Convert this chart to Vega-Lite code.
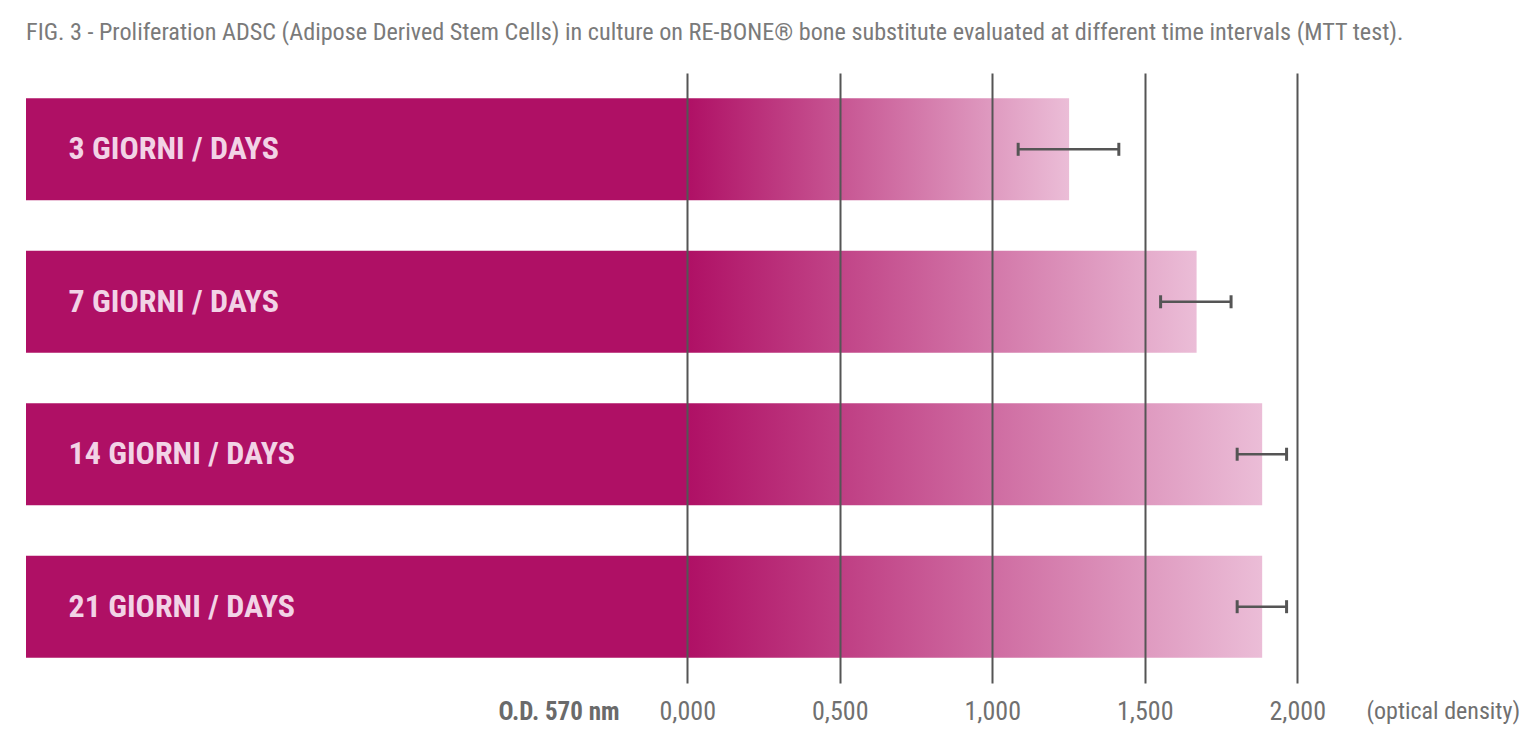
{
  "$schema": "https://vega.github.io/schema/vega-lite/v6.json",
  "width": 1317,
  "height": 610,
  "autosize": {"type": "none"},
  "padding": {"left": 26, "top": 73, "right": 193, "bottom": 53},
  "background": "white",
  "config": {"view": {"stroke": null}},
  "title": {
    "text": "FIG. 3 - Proliferation ADSC (Adipose Derived Stem Cells) in culture on RE-BONE® bone substitute evaluated at different time intervals (MTT test).",
    "anchor": "start",
    "frame": "group",
    "limit": 1500,
    "font": "Liberation Sans Narrow, Roboto Condensed, Roboto, sans-serif",
    "fontSize": 24.2,
    "fontWeight": "normal",
    "color": "#7a7a7a",
    "offset": 28
  },
  "data": {
    "values": [
      {"day": "3 GIORNI / DAYS", "od": 1.252, "lo": 1.085, "hi": 1.415},
      {"day": "7 GIORNI / DAYS", "od": 1.670, "lo": 1.552, "hi": 1.783},
      {"day": "14 GIORNI / DAYS", "od": 1.885, "lo": 1.803, "hi": 1.965},
      {"day": "21 GIORNI / DAYS", "od": 1.885, "lo": 1.803, "hi": 1.965}
    ]
  },
  "encoding": {
    "y": {
      "field": "day",
      "type": "nominal",
      "sort": null,
      "scale": {"paddingInner": 0.331, "paddingOuter": 0.166},
      "axis": {
        "orient": "left",
        "title": "O.D. 570 nm",
        "titleX": 593,
        "titleY": 626,
        "titleAngle": 0,
        "titleAlign": "right",
        "titleBaseline": "top",
        "titleFont": "Liberation Sans Narrow, Roboto Condensed, Roboto, sans-serif",
        "titleFontWeight": "bold",
        "titleFontSize": 25,
        "titleColor": "#6a6a6a",
        "labelAlign": "left",
        "labelPadding": -42,
        "labelFont": "Liberation Sans Narrow, Roboto Condensed, Roboto, sans-serif",
        "labelFontWeight": "bold",
        "labelFontSize": 32,
        "labelColor": "#F2D3E6",
        "labelLimit": 0,
        "domain": false,
        "ticks": false,
        "grid": false,
        "zindex": 1
      }
    }
  },
  "layer": [
    {
      "mark": {"type": "bar", "color": "#AF1065"},
      "encoding": {
        "x": {
          "datum": -2.168,
          "type": "quantitative",
          "scale": {"domain": [-2.168, 2.15], "nice": false, "zero": false},
          "axis": {
            "values": [0, 0.5, 1, 1.5, 2],
            "labelExpr": "replace(format(datum.value, '.3f'), '.', ',')",
            "grid": true,
            "gridColor": "#555555",
            "gridWidth": 2,
            "gridOpacity": 1,
            "domain": false,
            "ticks": false,
            "labelFont": "Liberation Sans Narrow, Roboto Condensed, Roboto, sans-serif",
            "labelFontSize": 26,
            "labelColor": "#707070",
            "labelPadding": 15,
            "labelFlush": false,
            "title": "(optical density)",
            "titleX": 1340,
            "titleY": 16,
            "titleAlign": "left",
            "titleBaseline": "top",
            "titleFont": "Liberation Sans Narrow, Roboto Condensed, Roboto, sans-serif",
            "titleFontSize": 24,
            "titleFontWeight": "normal",
            "titleColor": "#707070",
            "zindex": 1
          }
        }
      }
    },
    {
      "mark": {
        "type": "bar",
        "color": {
          "gradient": "linear",
          "x1": 0, "y1": 0, "x2": 1, "y2": 0,
          "stops": [
            {"offset": 0, "color": "#AF1065"},
            {"offset": 1, "color": "#EBBDD7"}
          ]
        }
      },
      "encoding": {
        "x": {"field": "od", "type": "quantitative"}
      }
    },
    {
      "mark": {"type": "rule", "color": "#555555", "strokeWidth": 2.5},
      "encoding": {
        "x": {"field": "lo", "type": "quantitative"},
        "x2": {"field": "hi"}
      }
    },
    {
      "transform": [{"fold": ["lo", "hi"], "as": ["end", "v"]}],
      "mark": {"type": "tick", "color": "#555555", "thickness": 3, "size": 13, "opacity": 1},
      "encoding": {
        "x": {"field": "v", "type": "quantitative"}
      }
    }
  ]
}
